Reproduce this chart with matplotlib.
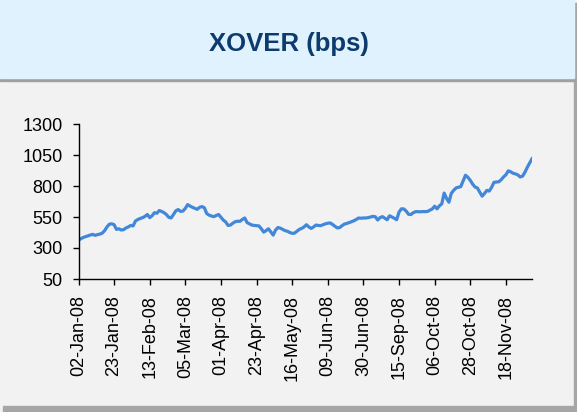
import matplotlib
matplotlib.use("Agg")
import matplotlib.pyplot as plt
from matplotlib.patches import Rectangle
import numpy as np

plt.rcParams['font.family'] = ['Liberation Sans', 'DejaVu Sans']

# XOVER spread (bps), one value per trading day
xover = [
    363, 375, 385, 392, 398, 405, 410, 402, 408, 412,
    420, 440, 470, 492, 495, 488, 450, 455, 445, 448,
    462, 470, 482, 478, 518, 530, 538, 545, 555, 570,
    545, 560, 585, 580, 602, 595, 585, 570, 548, 542,
    570, 600, 610, 595, 598, 620, 650, 638, 628, 620,
    612, 628, 634, 625, 578, 565, 558, 553, 562, 570,
    548, 525, 510, 482, 485, 500, 512, 516, 515, 530,
    542, 505, 495, 485, 482, 480, 478, 455, 428, 440,
    455, 430, 404, 445, 465, 460, 450, 440, 435, 425,
    418, 420, 435, 450, 458, 470, 488, 470, 458, 470,
    485, 482, 480, 488, 495, 500, 502, 490, 475, 462,
    465, 480, 493, 498, 505, 512, 520, 530, 542, 540,
    542, 542, 545, 550, 555, 552, 526, 545, 553, 540,
    528, 560, 550, 540, 528, 590, 616, 615, 598, 572,
    570, 585, 593, 593, 592, 594, 593, 595, 605, 615,
    637, 616, 640, 656, 743, 700, 669, 740, 765, 784,
    790, 795, 840, 887, 870, 846, 815, 792, 784, 750,
    718, 740, 765, 759, 790, 830, 832, 834, 850, 873,
    890, 922, 915, 903, 898, 890, 873, 879, 910, 950,
    985, 1020,
]

tick_labels = ['02-Jan-08', '23-Jan-08', '13-Feb-08', '05-Mar-08', '01-Apr-08',
               '23-Apr-08', '16-May-08', '09-Jun-08', '30-Jun-08', '15-Sep-08',
               '06-Oct-08', '28-Oct-08', '18-Nov-08']
tick_step = 15
y_ticks = [50, 300, 550, 800, 1050, 1300]

W, H = 577, 412
fig = plt.figure(figsize=(W / 100, H / 100), dpi=100)
fig.patch.set_facecolor('#f2f2f2')

# panel shadows and title band
fig.patches.append(Rectangle((574 / W, 0), 3 / W, 1 - 3 / H, transform=fig.transFigure,
                             color='#a6a6a6', zorder=0))
fig.patches.append(Rectangle((3 / W, 0), 1 - 3 / W, 6 / H, transform=fig.transFigure,
                             color='#a6a6a6', zorder=0))
fig.patches.append(Rectangle((0, 1 - 81 / H), 575 / W, 3 / H, transform=fig.transFigure,
                             color='#a0a0a0', zorder=0))
fig.patches.append(Rectangle((0, 1 - 78 / H), 574 / W, 78 / H, transform=fig.transFigure,
                             color='#e0f2fd', zorder=1))
fig.text(288.5 / W, 1 - 51 / H, 'XOVER (bps)', ha='center', va='baseline',
         fontsize=18.5, fontweight='bold', color='#0d3b6e')

ax = fig.add_axes([78.5 / W, 1 - 279 / H, (532 - 78.5) / W, (279 - 124) / H])
ax.set_facecolor('none')

x = np.arange(len(xover))
ax.plot(x, xover, color='#4287d8', linewidth=2.3, solid_joinstyle='round')

ax.set_xlim(0, len(xover) - 1)
ax.set_ylim(50, 1300)
ax.set_yticks(y_ticks)
ax.set_xticks(np.arange(0, len(tick_labels) * tick_step, tick_step))
ax.set_xticklabels(tick_labels, rotation=90)

for s in ['top', 'right']:
    ax.spines[s].set_visible(False)
for s in ['left', 'bottom']:
    ax.spines[s].set_color('black')
    ax.spines[s].set_linewidth(1)

ax.tick_params(direction='out', length=4, width=1, labelsize=13, colors='black')
ax.tick_params(axis='y', pad=7.5)
ax.tick_params(axis='x', pad=7.5)

fig.savefig('out.png', dpi=100, facecolor=fig.get_facecolor())
